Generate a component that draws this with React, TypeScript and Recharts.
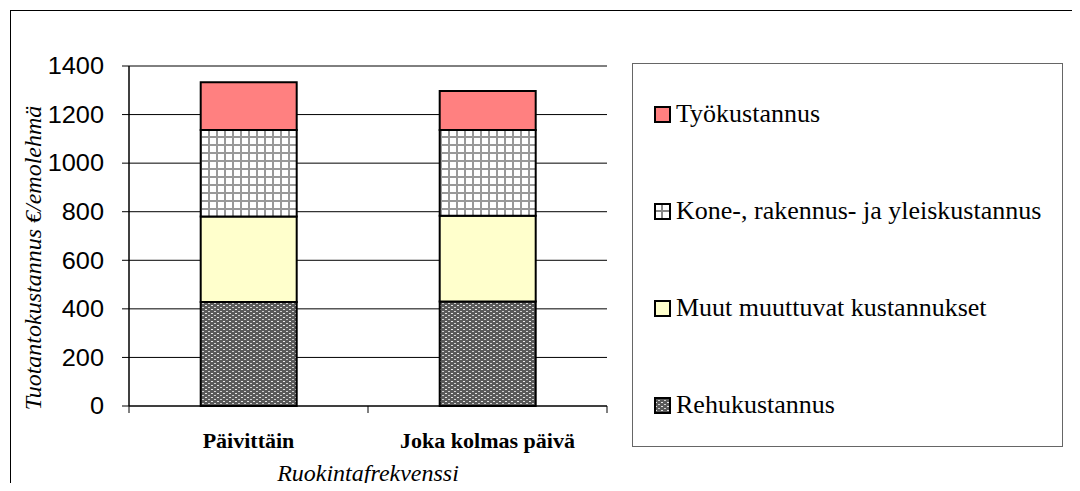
import React from 'react';
import { BarChart, Bar, XAxis, YAxis, CartesianGrid } from 'recharts';

const categories = ['Päivittäin', 'Joka kolmas päivä'];
const rehu = [428, 430];
const muut = [352, 353];
const kone = [356, 353];
const tyo = [197, 161];
const yTicks = [0, 200, 400, 600, 800, 1000, 1200, 1400];

const data = categories.map((name, i) => ({
  name,
  rehu: rehu[i],
  muut: muut[i],
  kone: kone[i],
  tyo: tyo[i],
}));

const SERIF = '"Liberation Serif", "Times New Roman", serif';
const SANS = '"Liberation Sans", Arial, sans-serif';

const legendItems = [
  { label: 'Työkustannus', kind: 'tyo' },
  { label: 'Kone-, rakennus- ja yleiskustannus', kind: 'kone' },
  { label: 'Muut muuttuvat kustannukset', kind: 'muut' },
  { label: 'Rehukustannus', kind: 'rehu' },
];

function Swatch({ kind }: { kind: string }) {
  let inner: React.ReactNode = null;
  if (kind === 'tyo') inner = <rect x={1} y={1} width={14} height={14} fill="#FF8080" />;
  if (kind === 'muut') inner = <rect x={1} y={1} width={14} height={14} fill="#FFFFCC" />;
  if (kind === 'kone')
    inner = (
      <g>
        <rect x={1} y={1} width={14} height={14} fill="#fff" />
        <line x1={8} y1={1} x2={8} y2={15} stroke="#888" strokeWidth={2} />
        <line x1={1} y1={8} x2={15} y2={8} stroke="#888" strokeWidth={2} />
      </g>
    );
  if (kind === 'rehu')
    inner = <rect x={1} y={1} width={14} height={14} fill="url(#rehuPat)" />;
  return (
    <svg width={17} height={17} style={{ display: 'block', marginRight: 5 }}>
      {inner}
      <rect x={1} y={1} width={15} height={15} fill="none" stroke="#000" strokeWidth={2} />
    </svg>
  );
}

function XTick(props: any) {
  const { x, y, payload, index } = props;
  const half = payload.offset || 0;
  return (
    <g>
      <line x1={x - half} y1={y - 8} x2={x - half} y2={y - 1} stroke="#000" />
      {index === categories.length - 1 && (
        <line x1={x + half} y1={y - 8} x2={x + half} y2={y - 1} stroke="#000" />
      )}
      <text
        x={x}
        y={y + 34}
        textAnchor="middle"
        fontFamily={SERIF}
        fontWeight="bold"
        fontSize={22}
        fill="#000"
      >
        {payload.value}
      </text>
    </g>
  );
}

// tick labels in the original are a bit wide, so stretch them sideways
function YTick(props: any) {
  const { x, y, payload } = props;
  return (
    <text
      transform={`translate(${x},${y}) scale(1.1,1)`}
      x={0}
      y={0}
      dy="0.36em"
      textAnchor="end"
      fontFamily={SANS}
      fontSize={23}
      fill="#000"
    >
      {payload.value}
    </text>
  );
}

function YTitle(props: any) {
  const { viewBox } = props;
  const cx = viewBox.x - 36;
  const cy = viewBox.y + viewBox.height / 2 + 22;
  return (
    <text
      x={cx}
      y={cy}
      transform={`rotate(-90 ${cx} ${cy})`}
      textAnchor="middle"
      dominantBaseline="central"
      fontFamily={SERIF}
      fontStyle="italic"
      fontSize={24}
      fill="#000"
    >
      Tuotantokustannus €/emolehmä
    </text>
  );
}

export default function App() {
  return (
    <div style={{ position: 'relative', width: 1080, height: 491, margin: -8, background: '#fff', overflow: 'hidden' }}>
      <div
        style={{
          position: 'absolute',
          left: 10,
          top: 10,
          width: 1100,
          height: 500,
          border: '1px solid #000',
        }}
      />
      <div style={{ position: 'absolute', left: 0, top: 0 }}>
        <BarChart
          width={1080}
          height={491}
          data={data}
          margin={{ top: 66, right: 473, left: 69, bottom: 45 }}
          barCategoryGap="30%"
        >
          <defs>
            <pattern id="rehuPat" width={6} height={4} patternUnits="userSpaceOnUse">
              <rect width={6} height={4} fill="#5a5a5a" />
              <rect x={1} y={1} width={2} height={1} fill="#e8e8e8" />
              <rect x={4} y={3} width={2} height={1} fill="#d0d0d0" />
            </pattern>
            <pattern id="konePat" width={8} height={8} patternUnits="userSpaceOnUse">
              <rect width={8} height={8} fill="#fff" />
              <rect x={0} y={0} width={2} height={8} fill="#999" />
              <rect x={0} y={0} width={8} height={2} fill="#999" />
            </pattern>
          </defs>
          <CartesianGrid vertical={false} stroke="#000" strokeWidth={1} />
          <XAxis
            dataKey="name"
            height={40}
            axisLine={{ stroke: '#000', strokeWidth: 1 }}
            tickLine={false}
            tick={<XTick />}
            interval={0}
            label={{
              value: 'Ruokintafrekvenssi',
              position: 'bottom',
              offset: 18,
              fontFamily: SERIF,
              fontStyle: 'italic',
              fontSize: 24,
              fill: '#000',
            }}
          />
          <YAxis
            width={60}
            domain={[0, 1400]}
            ticks={yTicks}
            interval={0}
            axisLine={{ stroke: '#000', strokeWidth: 1.5 }}
            tickLine={{ stroke: '#000' }}
            tickSize={7}
            tickMargin={18}
            tick={<YTick />}
            label={<YTitle />}
          />
          <YAxis
            yAxisId="r"
            orientation="right"
            width={0}
            tick={false}
            tickLine={false}
            axisLine={{ stroke: '#888', strokeWidth: 2 }}
            domain={[0, 1400]}
          />
          <Bar dataKey="rehu" stackId="a" fill="url(#rehuPat)" stroke="#000" strokeWidth={2} isAnimationActive={false} />
          <Bar dataKey="muut" stackId="a" fill="#FFFFCC" stroke="#000" strokeWidth={2} isAnimationActive={false} />
          <Bar dataKey="kone" stackId="a" fill="url(#konePat)" stroke="#000" strokeWidth={2} isAnimationActive={false} />
          <Bar dataKey="tyo" stackId="a" fill="#FF8080" stroke="#000" strokeWidth={2} isAnimationActive={false} />
        </BarChart>
      </div>
      <div
        style={{
          position: 'absolute',
          left: 632,
          top: 63,
          width: 429,
          height: 382,
          border: '1.5px solid #666',
          fontFamily: SERIF,
          fontSize: 26,
          color: '#000',
        }}
      >
        {legendItems.map((it, i) => (
          <div
            key={it.kind}
            style={{
              position: 'absolute',
              left: 21,
              top: 50 + i * 97 - 18,
              height: 36,
              display: 'flex',
              alignItems: 'center',
              whiteSpace: 'nowrap',
            }}
          >
            <Swatch kind={it.kind} />
            <span>{it.label}</span>
          </div>
        ))}
      </div>
    </div>
  );
}
